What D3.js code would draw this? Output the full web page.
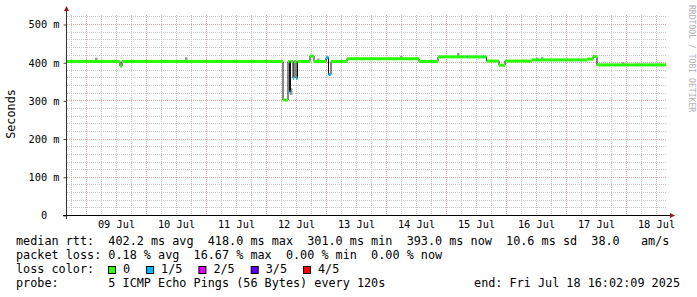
<!DOCTYPE html>
<html>
<head>
<meta charset="utf-8">
<script src="https://cdn.jsdelivr.net/npm/d3@7/dist/d3.min.js"></script>
<style>
body { margin: 0; background: #fff; }
svg text { font-family: "DejaVu Sans Mono", monospace; white-space: pre; }
</style>
</head>
<body>
<div id="plotspace"></div>
<script>
// median rtt (ms) as steps: each value holds from its time to the next one
var stepTimes = [
    "2025-07-08 16:24", "2025-07-09 13:36", "2025-07-09 14:24", "2025-07-12 06:48",
    "2025-07-12 08:48", "2025-07-12 09:24", "2025-07-12 09:48", "2025-07-12 10:48",
    "2025-07-12 11:12", "2025-07-12 12:00", "2025-07-12 12:36", "2025-07-12 17:36",
    "2025-07-12 19:12", "2025-07-13 00:00", "2025-07-13 01:00", "2025-07-13 02:00",
    "2025-07-13 08:24", "2025-07-14 13:12", "2025-07-14 20:48", "2025-07-15 08:12",
    "2025-07-15 08:36", "2025-07-15 14:48", "2025-07-15 15:12", "2025-07-15 16:12",
    "2025-07-15 21:12", "2025-07-15 23:36", "2025-07-16 10:24", "2025-07-17 08:24",
    "2025-07-17 10:48", "2025-07-17 12:24", "2025-07-18 16:00"
];
var stepMedian = [
    402, 390, 402, 301,
    402, 322, 402, 358,
    402, 358, 402, 416,
    402, 412, 368, 402,
    409, 402, 414, 414,
    414, 414, 414, 403,
    392, 403, 406, 408,
    415, 393, 393
];
// lost pings out of 5
var stepLoss = [
    0, 0, 0, 0,
    0, 1, 0, 1,
    0, 1, 0, 0,
    0, 1, 1, 0,
    0, 0, 0, 1,
    0, 1, 0, 0,
    0, 0, 0, 0,
    0, 0, 0
];

// the few bits of smoke that stick out of the median line
var smokeTimes = [
    "2025-07-09 04:00", "2025-07-10 16:00", "2025-07-12 10:00", "2025-07-12 20:48",
    "2025-07-14 06:00", "2025-07-15 04:48", "2025-07-16 12:24", "2025-07-16 14:24",
    "2025-07-17 22:48", "2025-07-18 04:48"
];
var smokeLo = [402, 402, 314, 402, 409, 414, 406, 406, 393, 393];
var smokeHi = [412, 413, 332, 410, 417, 424, 412, 413, 400, 397];

var yTicks = [0, 100, 200, 300, 400, 500];
var dayTicks = ["2025-07-09", "2025-07-10", "2025-07-11", "2025-07-12", "2025-07-13",
                "2025-07-14", "2025-07-15", "2025-07-16", "2025-07-17", "2025-07-18"];

var lossLabels = ["0", "1/5", "2/5", "3/5", "4/5"];
var lossColors = ["#26ff00", "#00b8ff", "#dd00ff", "#5e00ff", "#ff0000"];

var legendLines = [
    "median rtt:  402.2 ms avg  418.0 ms max  301.0 ms min  393.0 ms now  10.6 ms sd  38.0   am/s",
    "packet loss: 0.18 % avg  16.67 % max  0.00 % min  0.00 % now",
    "loss color:",
    "probe:       5 ICMP Echo Pings (56 Bytes) every 120s"
];
var endText = "end: Fri Jul 18 16:02:09 2025";

var drawChart = function() {
    var width = 697, height = 297;
    var left = 67, right = 667, top = 15, bottom = 215;
    var charW = 7.1;
    var parse = d3.timeParse("%Y-%m-%d %H:%M");
    var parseDay = d3.timeParse("%Y-%m-%d");

    var graphStart = parse("2025-07-08 16:24");
    var graphEnd = parse("2025-07-18 16:24");

    var x = d3.scaleTime().domain([graphStart, graphEnd]).range([left, right]);
    var y = d3.scaleLinear().domain([0, 523.6]).range([bottom, top]);

    var svg = d3.select("#plotspace").
        append("svg").
        attr("width", width).
        attr("height", height);

    svg.append("rect").attr("width", width).attr("height", height).attr("fill", "#fff");

    // grid: minor every 6h / 20 ms, major every day / 100 ms
    var grid = svg.append("g");
    var minorX = d3.timeHour.every(6).range(graphStart, graphEnd);
    var majorX = d3.timeDay.range(graphStart, graphEnd);
    var minorY = d3.range(20, 523, 20);

    grid.selectAll("line.minx").data(minorX).enter().append("line").
        attr("x1", function(d) { return Math.round(x(d)) + 0.5; }).
        attr("x2", function(d) { return Math.round(x(d)) + 0.5; }).
        attr("y1", top).attr("y2", bottom).
        attr("stroke", "#c8c8c8").attr("stroke-dasharray", "1,1");
    grid.selectAll("line.miny").data(minorY).enter().append("line").
        attr("x1", left).attr("x2", right).
        attr("y1", function(d) { return Math.round(y(d)) + 0.5; }).
        attr("y2", function(d) { return Math.round(y(d)) + 0.5; }).
        attr("stroke", "#c8c8c8").attr("stroke-dasharray", "1,1");
    grid.selectAll("line.majx").data(majorX).enter().append("line").
        attr("x1", function(d) { return Math.round(x(d)) + 0.5; }).
        attr("x2", function(d) { return Math.round(x(d)) + 0.5; }).
        attr("y1", top).attr("y2", bottom + 2).
        attr("stroke", "#e2a4a4").attr("stroke-dasharray", "1,1");
    grid.selectAll("line.majy").data(yTicks.slice(1)).enter().append("line").
        attr("x1", left).attr("x2", right).
        attr("y1", function(d) { return Math.round(y(d)) + 0.5; }).
        attr("y2", function(d) { return Math.round(y(d)) + 0.5; }).
        attr("stroke", "#e2a4a4").attr("stroke-dasharray", "1,1");

    // smoke
    svg.selectAll("rect.smoke").data(smokeTimes).enter().append("rect").
        attr("x", function(d) { return x(parse(d)) - 1; }).
        attr("width", 2.5).
        attr("y", function(d, i) { return y(smokeHi[i]); }).
        attr("height", function(d, i) { return y(smokeLo[i]) - y(smokeHi[i]); }).
        attr("fill", "#9a9a9a");

    var steps = stepTimes.map(function(t, i) {
        return {t: parse(t), v: stepMedian[i], loss: stepLoss[i]};
    });

    // thin dark median line (shows the jumps)
    var medline = d3.line().
        x(function(d) { return x(d.t); }).
        y(function(d) { return y(d.v); }).
        curve(d3.curveStepAfter);
    svg.append("path").
        attr("d", medline(steps)).
        attr("fill", "none").
        attr("stroke", "#111").
        attr("stroke-width", 1);

    // thick median blocks coloured by loss
    svg.selectAll("rect.med").data(steps.slice(0, -1)).enter().append("rect").
        attr("x", function(d) { return x(d.t); }).
        attr("width", function(d, i) { return x(steps[i + 1].t) - x(d.t); }).
        attr("y", function(d) { return y(d.v) - 1.5; }).
        attr("height", 3).
        attr("fill", function(d) { return lossColors[d.loss]; });

    // axes
    var yAxis = d3.axisLeft(y).
        tickValues(yTicks).
        tickSize(3).
        tickPadding(4).
        tickFormat(function(d) { return d === 0 ? "0  " : d + " m"; });
    var yg = svg.append("g").attr("transform", "translate(" + (left - 0.5) + ",0.5)").call(yAxis);
    yg.select(".domain").remove();
    yg.selectAll("text").attr("font-family", null).attr("font-size", "10.3px").attr("fill", "#000");
    yg.selectAll("line").attr("stroke", "#444");

    var xAxis = d3.axisBottom(x).
        tickValues(dayTicks.map(function(d) { return d3.timeHour.offset(parseDay(d), 12); })).
        tickSize(0).
        tickPadding(6).
        tickFormat(d3.timeFormat("%d %b"));
    var xg = svg.append("g").attr("transform", "translate(0," + bottom + ")").call(xAxis);
    xg.select(".domain").remove();
    xg.selectAll("text").attr("font-family", null).attr("font-size", "10.3px").attr("fill", "#000");

    svg.append("line").attr("x1", left - 0.5).attr("x2", left - 0.5).
        attr("y1", bottom + 4).attr("y2", top - 5).attr("stroke", "#333");
    svg.append("line").attr("x1", left - 4).attr("x2", right + 4).
        attr("y1", bottom + 0.5).attr("y2", bottom + 0.5).attr("stroke", "#000");
    svg.append("path").
        attr("d", "M" + (left - 3) + "," + (top - 4) + "L" + (left - 0.5) + "," + (top - 9) + "L" + (left + 2) + "," + (top - 4) + "Z").
        attr("fill", "#931a1a");
    svg.append("path").
        attr("d", "M" + (right + 3) + "," + (bottom - 2) + "L" + (right + 8) + "," + (bottom + 0.5) + "L" + (right + 3) + "," + (bottom + 3) + "Z").
        attr("fill", "#931a1a");

    // unit label and watermark
    svg.append("text").
        attr("transform", "translate(15,114) rotate(-90)").
        attr("text-anchor", "middle").
        attr("font-size", "11.8px").
        text("Seconds");
    svg.append("text").
        attr("transform", "translate(689,5) rotate(90)").
        attr("font-size", "8.1px").
        attr("fill", "#b0b0b0").
        text("RRDTOOL / TOBI OETIKER");

    // legend
    svg.selectAll("text.legend").data(legendLines).enter().append("text").
        attr("x", 16).
        attr("y", function(d, i) { return 245 + i * 14; }).
        attr("font-size", "11.8px").
        text(function(d) { return d; });
    svg.append("text").
        attr("x", 680).attr("y", 287).
        attr("text-anchor", "end").
        attr("font-size", "11.8px").
        text(endText);

    // loss colour boxes flow one after another: box, space, label, gap
    var lx = [];
    var pos = 108;
    lossLabels.forEach(function(l) {
        lx.push(pos);
        pos += 15 + l.length * charW + 16;
    });
    var lg = svg.selectAll("g.loss").data(lossLabels).enter().append("g").
        attr("transform", function(d, i) { return "translate(" + lx[i] + ",266)"; });
    lg.append("rect").
        attr("x", 0.5).attr("y", 0.5).attr("width", 7).attr("height", 7).
        attr("fill", function(d, i) { return lossColors[i]; }).
        attr("stroke", "#000");
    lg.append("text").
        attr("x", 15).attr("y", 7).
        attr("font-size", "11.8px").
        text(function(d) { return d; });
};

drawChart();
</script>
</body>
</html>
